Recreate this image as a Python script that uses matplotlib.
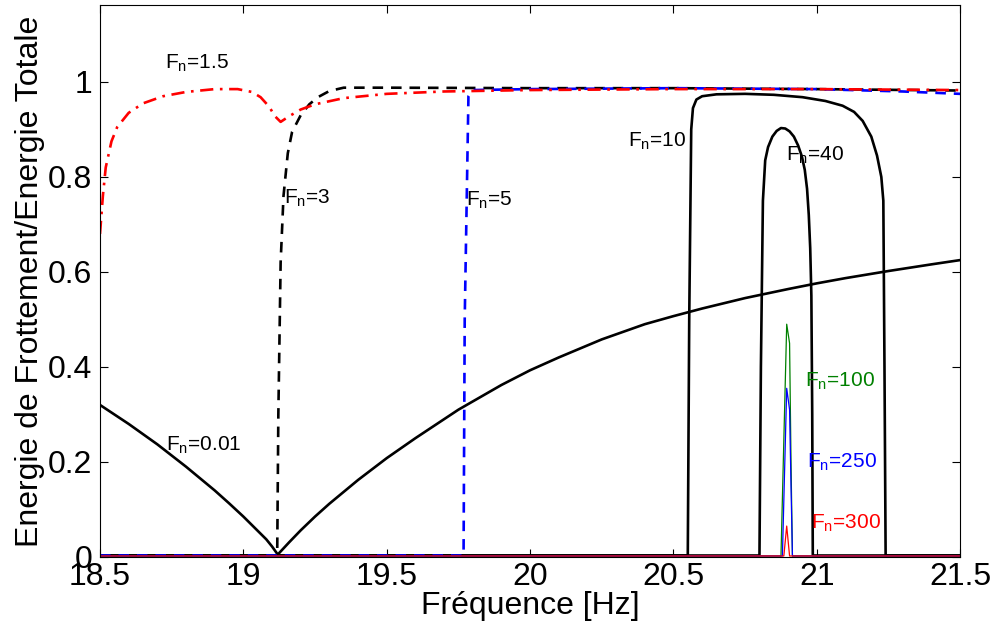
import numpy as np
import matplotlib
matplotlib.use('Agg')
import matplotlib.pyplot as plt
from matplotlib import rcParams

rcParams['font.family'] = ['Liberation Sans', 'DejaVu Sans']
rcParams['mathtext.fontset'] = 'custom'
rcParams['mathtext.rm'] = 'Liberation Sans'

# Fn = 0.01 (black solid, V shape)
x_001 = [18.5, 18.6, 18.7, 18.8, 18.9, 18.95, 19.0, 19.05, 19.08, 19.1, 19.12, 19.14,
         19.16, 19.2, 19.25, 19.3, 19.4, 19.5, 19.6, 19.75, 19.9, 20.0, 20.1, 20.25,
         20.4, 20.5, 20.6, 20.75, 20.9, 21.0, 21.1, 21.25, 21.4, 21.5]
y_001 = [0.32, 0.28, 0.237, 0.19, 0.14, 0.113, 0.085, 0.055, 0.037, 0.022, 0.005, 0.018,
         0.031, 0.056, 0.085, 0.112, 0.162, 0.208, 0.25, 0.31, 0.362, 0.393, 0.42, 0.458,
         0.49, 0.507, 0.523, 0.545, 0.564, 0.576, 0.587, 0.602, 0.616, 0.625]

# Fn = 1.5 (red dash-dot)
x_15 = [18.5, 18.51, 18.52, 18.54, 18.56, 18.6, 18.65, 18.72, 18.8, 18.9, 18.98,
        19.03, 19.06, 19.09, 19.11, 19.13, 19.16, 19.2, 19.25, 19.35, 19.5, 19.7,
        20.0, 20.5, 21.0, 21.5]
y_15 = [0.68, 0.76, 0.82, 0.875, 0.905, 0.935, 0.955, 0.97, 0.979, 0.985, 0.985,
        0.979, 0.968, 0.948, 0.928, 0.916, 0.928, 0.942, 0.953, 0.966, 0.975, 0.98,
        0.983, 0.985, 0.985, 0.983]

# Fn = 3 (black dashed)
x_3 = [18.5, 19.118, 19.122, 19.13, 19.14, 19.155, 19.17, 19.2, 19.23, 19.26, 19.3,
       19.35, 19.5, 20.0, 20.5, 21.0, 21.5]
y_3 = [0.003, 0.003, 0.3, 0.62, 0.76, 0.85, 0.895, 0.93, 0.953, 0.968, 0.981,
       0.988, 0.988, 0.987, 0.987, 0.985, 0.982]

# Fn = 5 (blue dashed)
x_5 = [18.5, 19.768, 19.772, 19.785, 19.8, 20.0, 20.5, 21.0, 21.3, 21.5]
y_5 = [0.003, 0.003, 0.5, 0.97, 0.983, 0.985, 0.987, 0.985, 0.98, 0.975]

# Fn = 10 (black solid)
x_10 = [18.5, 20.55, 20.555, 20.562, 20.568, 20.58, 20.6, 20.65, 20.75, 20.85, 20.95,
        21.03, 21.09, 21.13, 21.16, 21.19, 21.21, 21.225, 21.232, 21.236, 21.24, 21.5]
y_10 = [0.003, 0.003, 0.5, 0.9, 0.945, 0.963, 0.97, 0.974, 0.975, 0.973, 0.968,
        0.96, 0.95, 0.937, 0.918, 0.885, 0.845, 0.8, 0.75, 0.4, 0.003, 0.003]

# Fn = 40 (black solid)
x_40 = [18.5, 20.80, 20.805, 20.812, 20.82, 20.83, 20.845, 20.86, 20.875, 20.89,
        20.905, 20.92, 20.935, 20.948, 20.958, 20.966, 20.972, 20.977, 20.981,
        20.984, 20.986, 21.5]
y_40 = [0.003, 0.003, 0.4, 0.75, 0.835, 0.863, 0.885, 0.897, 0.903, 0.902,
        0.896, 0.885, 0.866, 0.843, 0.815, 0.775, 0.72, 0.65, 0.55, 0.3, 0.003, 0.003]

# Fn = 100, 250, 300 (thin spikes)
x_spk = [18.5, 20.875, 20.895, 20.905, 20.91, 20.915, 21.5]
y_100 = [0.002, 0.002, 0.49, 0.45, 0.2, 0.002, 0.002]
x_250 = [18.5, 20.88, 20.895, 20.905, 20.91, 20.915, 21.5]
y_250 = [0.002, 0.002, 0.355, 0.31, 0.15, 0.002, 0.002]
x_300 = [18.5, 20.885, 20.895, 20.905, 20.91, 21.5]
y_300 = [0.002, 0.002, 0.065, 0.002, 0.002, 0.002]

labels = ['1.5', '3', '5', '10', '40', '0.01', '100', '250', '300']
label_x = [18.727, 19.14, 19.777, 20.34, 20.893, 18.73, 20.96, 20.966, 20.98]
label_y = [1.04, 0.755, 0.75, 0.875, 0.845, 0.235, 0.37, 0.2, 0.07]
label_c = ['k', 'k', 'k', 'k', 'k', 'k', 'green', 'blue', 'red']

fig = plt.figure(figsize=(9.95, 6.3), dpi=100)
ax = fig.add_axes([0.1005, 0.116, 0.8645, 0.876])

ax.plot(x_001, y_001, 'k-', lw=1.9)
ax.plot(x_10, y_10, 'k-', lw=1.9)
ax.plot(x_40, y_40, 'k-', lw=1.9)
ax.plot(x_3, y_3, 'k--', lw=1.9, dashes=(4, 3))
ax.plot(x_5, y_5, '--', color='blue', lw=1.9, dashes=(4, 3))
ax.plot(x_15, y_15, '-.', color='red', lw=1.9, dashes=(5, 2.5, 1, 2.5))
ax.plot(x_spk, y_100, '-', color='green', lw=0.9)
ax.plot(x_250, y_250, '-', color='blue', lw=0.9)
ax.plot(x_300, y_300, '-', color='red', lw=0.9)

for s, tx, ty, c in zip(labels, label_x, label_y, label_c):
    ax.text(tx, ty, r'$\mathregular{F_n}$=' + s, color=c, fontsize=15,
            ha='left', va='center')

ax.set_xlim(18.5, 21.5)
ax.set_ylim(0, 1.162)
ax.set_xticks([18.5, 19, 19.5, 20, 20.5, 21, 21.5])
ax.set_xticklabels(['18.5', '19', '19.5', '20', '20.5', '21', '21.5'])
ax.set_yticks([0, 0.2, 0.4, 0.6, 0.8, 1])
ax.set_yticklabels(['0', '0.2', '0.4', '0.6', '0.8', '1'])
ax.tick_params(direction='in', length=6, labelsize=23, top=True, right=True,
               width=0.8)
ax.tick_params(axis='x', pad=4)
ax.tick_params(axis='y', pad=5.5)
ax.set_xlabel('Fréquence [Hz]', fontsize=23, labelpad=-1)
ax.set_ylabel('Energie de Frottement/Energie Totale', fontsize=23, labelpad=2)

fig.savefig('out.png', dpi=100)
